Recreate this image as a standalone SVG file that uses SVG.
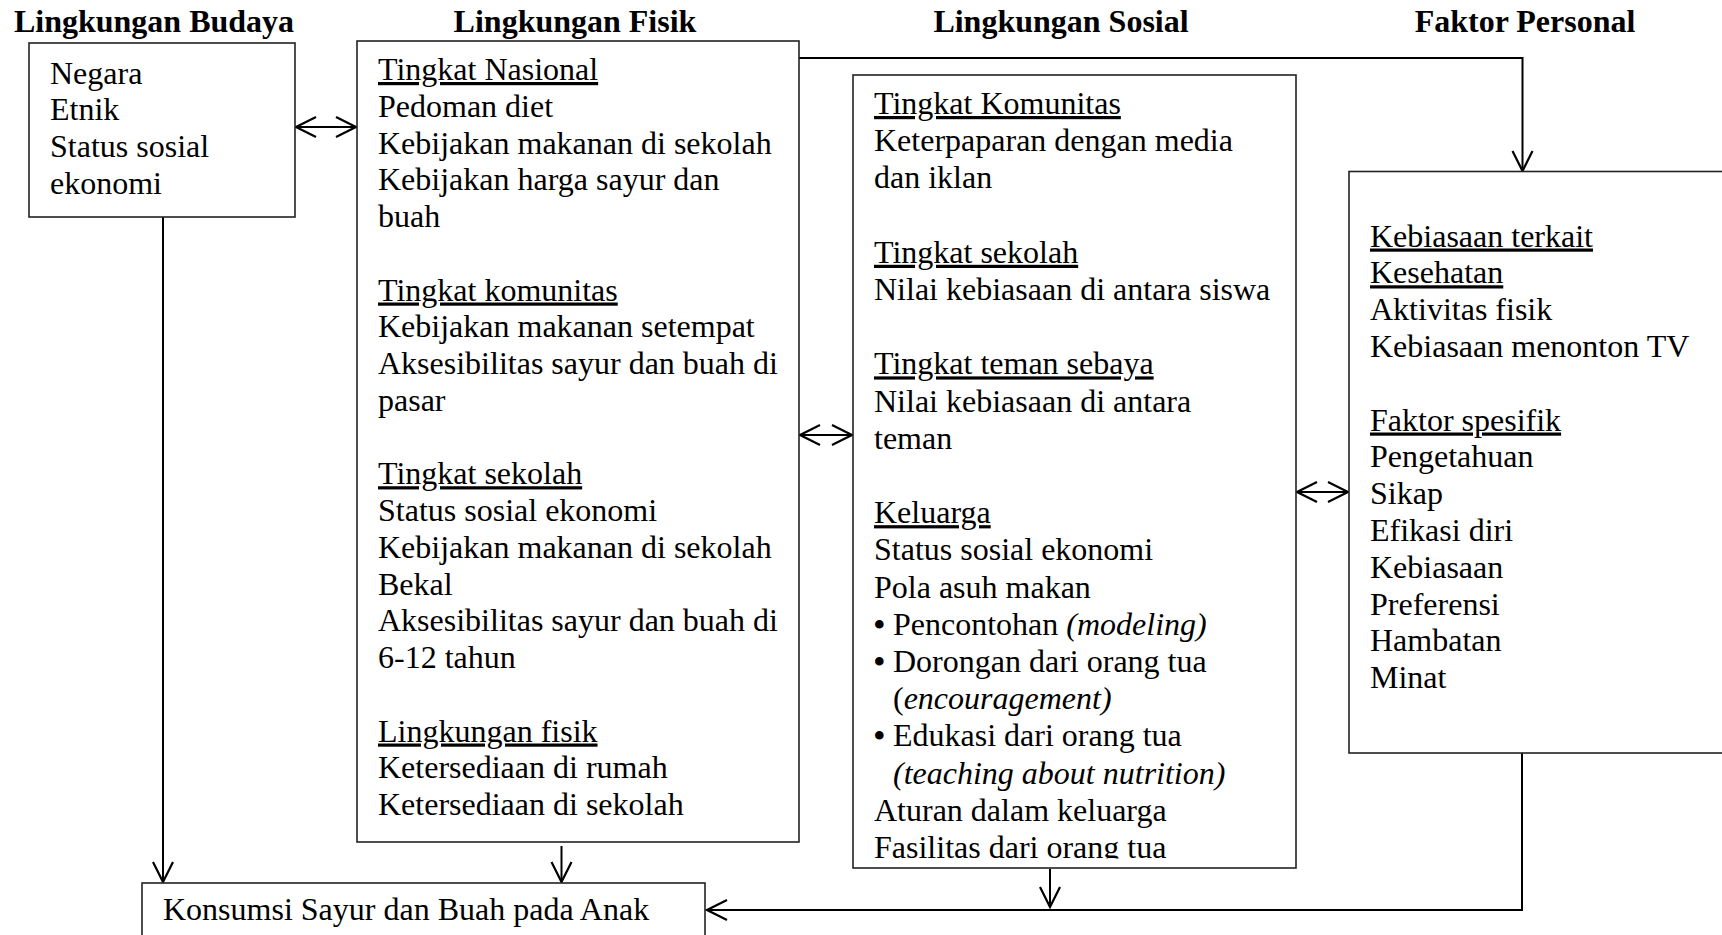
<svg xmlns="http://www.w3.org/2000/svg" width="1722" height="935" viewBox="0 0 1722 935">
<style>
text { font-family: "Liberation Serif", "Times New Roman", serif; font-size: 32px; fill: #000; }
.hd { font-weight: bold; text-anchor: middle; }
.u { text-decoration: underline; }
.it { font-style: italic; }
.bl { font-size: 36px; }
.box { fill: #fff; stroke: #222; stroke-width: 1.6; }
.con { fill: none; stroke: #000; stroke-width: 2; }
</style>
<defs>
<marker id="arr" viewBox="-23 -12 25 24" refX="0" refY="0" markerWidth="25" markerHeight="24" markerUnits="userSpaceOnUse" orient="auto-start-reverse">
<path d="M-20,-10 L0,0 L-20,10" fill="none" stroke="#000" stroke-width="2.2"/>
</marker>
<clipPath id="clipSosial"><rect x="853" y="75" width="443" height="783.5"/></clipPath>
</defs>
<rect width="1722" height="935" fill="#fff"/>

<g id="headers">
<text class="hd" x="154" y="32">Lingkungan Budaya</text>
<text class="hd" x="575" y="32">Lingkungan Fisik</text>
<text class="hd" x="1061" y="32">Lingkungan Sosial</text>
<text class="hd" x="1525" y="32">Faktor Personal</text>
</g>

<g id="connectors">
<polyline class="con" points="799,58 1522.5,58 1522.5,171" marker-end="url(#arr)"/>
<line class="con" x1="296" y1="127" x2="356" y2="127" marker-start="url(#arr)" marker-end="url(#arr)"/>
<line class="con" x1="800" y1="435" x2="852" y2="435" marker-start="url(#arr)" marker-end="url(#arr)"/>
<line class="con" x1="1297" y1="492" x2="1348" y2="492" marker-start="url(#arr)" marker-end="url(#arr)"/>
<line class="con" x1="163" y1="217" x2="163" y2="882" marker-end="url(#arr)"/>
<line class="con" x1="561.5" y1="846" x2="561.5" y2="882" marker-end="url(#arr)"/>
<line class="con" x1="1050" y1="869" x2="1050" y2="907" marker-end="url(#arr)"/>
<polyline class="con" points="1522,753 1522,910 707,910" marker-end="url(#arr)"/>
</g>

<g id="budaya">
<rect class="box" x="29" y="43" width="266" height="174"/>
<text x="50" y="83.5">Negara</text>
<text x="50" y="120.3">Etnik</text>
<text x="50" y="157.1">Status sosial</text>
<text x="50" y="193.9">ekonomi</text>
</g>

<g id="fisik">
<rect class="box" x="357" y="41" width="442" height="801"/>
<text class="u" x="378" y="80">Tingkat Nasional</text>
<text x="378" y="116.75">Pedoman diet</text>
<text x="378" y="153.5">Kebijakan makanan di sekolah</text>
<text x="378" y="190.25">Kebijakan harga sayur dan</text>
<text x="378" y="227">buah</text>
<text class="u" x="378" y="300.5">Tingkat komunitas</text>
<text x="378" y="337.25">Kebijakan makanan setempat</text>
<text x="378" y="374">Aksesibilitas sayur dan buah di</text>
<text x="378" y="410.75">pasar</text>
<text class="u" x="378" y="484.25">Tingkat sekolah</text>
<text x="378" y="521">Status sosial ekonomi</text>
<text x="378" y="557.75">Kebijakan makanan di sekolah</text>
<text x="378" y="594.5">Bekal</text>
<text x="378" y="631.25">Aksesibilitas sayur dan buah di</text>
<text x="378" y="668">6-12 tahun</text>
<text class="u" x="378" y="741.5">Lingkungan fisik</text>
<text x="378" y="778.25">Ketersediaan di rumah</text>
<text x="378" y="815">Ketersediaan di sekolah</text>
</g>

<g id="sosial">
<rect class="box" x="853" y="75" width="443" height="793"/>
<g clip-path="url(#clipSosial)">
<text class="u" x="874" y="114">Tingkat Komunitas</text>
<text x="874" y="151.2">Keterpaparan dengan media</text>
<text x="874" y="188.4">dan iklan</text>
<text class="u" x="874" y="262.8">Tingkat sekolah</text>
<text x="874" y="300">Nilai kebiasaan di antara siswa</text>
<text class="u" x="874" y="374.4">Tingkat teman sebaya</text>
<text x="874" y="411.6">Nilai kebiasaan di antara</text>
<text x="874" y="448.8">teman</text>
<text class="u" x="874" y="523.2">Keluarga</text>
<text x="874" y="560.4">Status sosial ekonomi</text>
<text x="874" y="597.6">Pola asuh makan</text>
<text x="873" y="634.8"><tspan class="bl" dy="2">•</tspan><tspan x="893" dy="-2">Pencontohan </tspan><tspan class="it">(modeling)</tspan></text>
<text x="873" y="672"><tspan class="bl" dy="2">•</tspan><tspan x="893" dy="-2">Dorongan dari orang tua</tspan></text>
<text x="893" y="709.2">(<tspan class="it">encouragement)</tspan></text>
<text x="873" y="746.4"><tspan class="bl" dy="2">•</tspan><tspan x="893" dy="-2">Edukasi dari orang tua</tspan></text>
<text class="it" x="893" y="783.6">(teaching about nutrition)</text>
<text x="874" y="820.8">Aturan dalam keluarga</text>
<text x="874" y="858">Fasilitas dari orang tua</text>
</g>
</g>

<g id="personal">
<rect class="box" x="1349" y="171.5" width="390" height="581.5"/>
<text class="u" x="1370" y="246.5">Kebiasaan terkait</text>
<text class="u" x="1370" y="283.3">Kesehatan</text>
<text x="1370" y="320.1">Aktivitas fisik</text>
<text x="1370" y="356.9">Kebiasaan menonton TV</text>
<text class="u" x="1370" y="430.5">Faktor spesifik</text>
<text x="1370" y="467.3">Pengetahuan</text>
<text x="1370" y="504.1">Sikap</text>
<text x="1370" y="540.9">Efikasi diri</text>
<text x="1370" y="577.7">Kebiasaan</text>
<text x="1370" y="614.5">Preferensi</text>
<text x="1370" y="651.3">Hambatan</text>
<text x="1370" y="688.1">Minat</text>
</g>

<g id="konsumsi">
<rect class="box" x="142" y="883" width="563" height="70"/>
<text x="163" y="920">Konsumsi Sayur dan Buah pada Anak</text>
</g>
</svg>
